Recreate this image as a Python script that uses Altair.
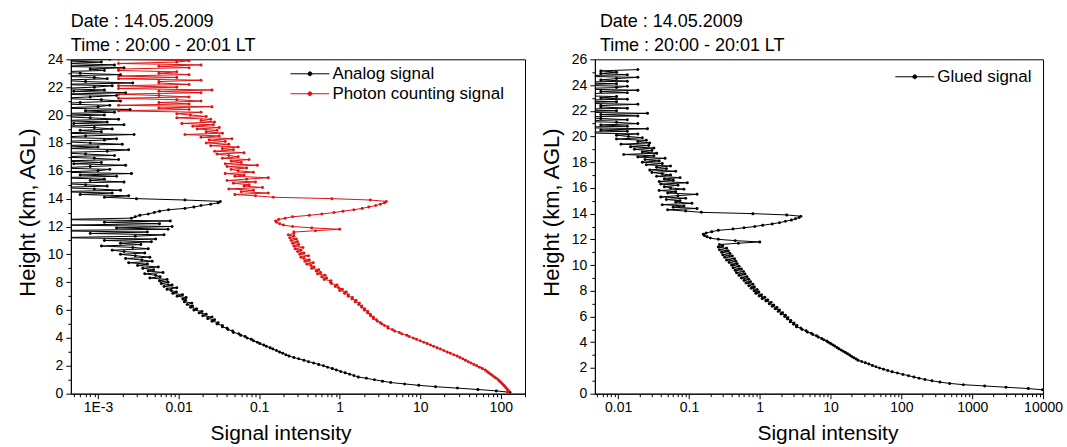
import altair as alt
import pandas as pd

# ---------------- data ----------------
HEIGHT_KM = [
    0.1, 0.2, 0.3, 0.4, 0.5, 0.6, 0.7, 0.8, 0.9, 1.0,
    1.1, 1.2, 1.3, 1.4, 1.5, 1.6, 1.7, 1.8, 1.9, 2.0,
    2.1, 2.2, 2.3, 2.4, 2.5, 2.6, 2.7, 2.8, 2.9, 3.0,
    3.1, 3.2, 3.3, 3.4, 3.5, 3.6, 3.7, 3.8, 3.9, 4.0,
    4.1, 4.2, 4.3, 4.4, 4.5, 4.6, 4.7, 4.8, 4.9, 5.0,
    5.1, 5.2, 5.3, 5.4, 5.5, 5.6, 5.7, 5.8, 5.9, 6.0,
    6.1, 6.2, 6.3, 6.4, 6.5, 6.6, 6.7, 6.8, 6.9, 7.0,
    7.1, 7.2, 7.3, 7.4, 7.5, 7.6, 7.7, 7.8, 7.9, 8.0,
    8.1, 8.2, 8.3, 8.4, 8.5, 8.6, 8.7, 8.8, 8.9, 9.0,
    9.1, 9.2, 9.3, 9.4, 9.5, 9.6, 9.7, 9.8, 9.9, 10.0,
    10.1, 10.2, 10.3, 10.4, 10.5, 10.6, 10.7, 10.8, 10.9, 11.0,
    11.1, 11.2, 11.3, 11.4, 11.5, 11.6, 11.7, 11.8, 11.9, 12.0,
    12.1, 12.2, 12.3, 12.4, 12.5, 12.6, 12.7, 12.8, 12.9, 13.0,
    13.1, 13.2, 13.3, 13.4, 13.5, 13.6, 13.7, 13.8, 13.9, 14.0,
    14.1, 14.2, 14.3, 14.4, 14.5, 14.6, 14.7, 14.8, 14.9, 15.0,
    15.1, 15.2, 15.3, 15.4, 15.5, 15.6, 15.7, 15.8, 15.9, 16.0,
    16.1, 16.2, 16.3, 16.4, 16.5, 16.6, 16.7, 16.8, 16.9, 17.0,
    17.1, 17.2, 17.3, 17.4, 17.5, 17.6, 17.7, 17.8, 17.9, 18.0,
    18.1, 18.2, 18.3, 18.4, 18.5, 18.6, 18.7, 18.8, 18.9, 19.0,
    19.1, 19.2, 19.3, 19.4, 19.5, 19.6, 19.7, 19.8, 19.9, 20.0,
    20.1, 20.2, 20.3, 20.4, 20.5, 20.6, 20.7, 20.8, 20.9, 21.0,
    21.1, 21.2, 21.3, 21.4, 21.5, 21.6, 21.7, 21.8, 21.9, 22.0,
    22.1, 22.2, 22.3, 22.4, 22.5, 22.6, 22.7, 22.8, 22.9, 23.0,
    23.1, 23.2, 23.3, 23.4, 23.5, 23.6, 23.7, 23.8, 23.9, 24.0,
    24.1, 24.2, 24.3, 24.4, 24.5, 24.6, 24.7, 24.8, 24.9, 25.0,
    25.1, 25.2,
]

# analog signal, 0.1 .. 24.0 km (values below the axis minimum are noise)
ANALOG = [
    130, 88, 52, 29, 15.5, 9.6, 6.4, 4.3, 3.4, 2.7,
    2.15, 1.7, 1.5, 1.33, 1.17, 1.03, 0.91, 0.81, 0.71, 0.63,
    0.55, 0.475, 0.41, 0.36, 0.31, 0.27, 0.235, 0.215, 0.196, 0.179,
    0.164, 0.148, 0.137, 0.123, 0.114, 0.102, 0.095, 0.085, 0.08, 0.071,
    0.067, 0.059, 0.056, 0.048, 0.047, 0.041, 0.04, 0.035, 0.035, 0.03,
    0.031, 0.026, 0.028, 0.023, 0.026, 0.02, 0.022, 0.018, 0.0195, 0.0155,
    0.0168, 0.0141, 0.0149, 0.0128, 0.0146, 0.0118, 0.0122, 0.0113, 0.0124, 0.0096,
    0.0112, 0.0085, 0.0094, 0.0081, 0.0072, 0.0095, 0.0066, 0.0083, 0.0061, 0.0074,
    0.0058, 0.0072, 0.0044, 0.0059, 0.0052, 0.0038, 0.0064, 0.0042, 0.0049, 0.0036,
    0.0056, 0.0031, 0.0041, 0.0024, 0.0047, 0.0035, 0.0022, 0.0044, 0.0029, 0.0019,
    0.0038, 0.0021, 0.0015, 0.0042, 0.0027, 0.0011, 0.0034, 0.0019, 0.0046, 0.0012,
    0.0052, 0.0003, 0.0029, 0.0066, 0.0008, 0.0041, 0.0002, 0.0074, 0.0017, 0.0083,
    0.0004, 0.0058, 0.0012, 0.0079, 0.0003, 0.0026, 0.0029, 0.0033, 0.0042, 0.005,
    0.0058, 0.0075, 0.012, 0.0155, 0.019, 0.025, 0.031, 0.033, 0.012, 0.003,
    0.0012, 0.0024, 0.0006, 0.0015, 0.0003, 0.0019, 0.0009, 0.0003, 0.0013, 0.0007,
    0.0003, 0.0021, 0.0008, 0.0012, 0.0003, 0.0017, 0.0006, 0.0026, 0.0003, 0.001,
    0.0014, 0.0003, 0.0008, 0.0022, 0.0005, 0.0011, 0.0003, 0.0018, 0.0009, 0.0003,
    0.0016, 0.0007, 0.0003, 0.0013, 0.0024, 0.0004, 0.001, 0.0003, 0.002, 0.0008,
    0.0003, 0.0012, 0.0017, 0.0003, 0.0007, 0.0028, 0.0003, 0.0011, 0.0006, 0.0015,
    0.0009, 0.0003, 0.0021, 0.0005, 0.0013, 0.0003, 0.0018, 0.0008, 0.0003, 0.0012,
    0.0003, 0.0016, 0.0007, 0.0025, 0.0003, 0.001, 0.0014, 0.0003, 0.0006, 0.0019,
    0.0011, 0.0003, 0.0008, 0.0017, 0.0003, 0.0022, 0.0005, 0.0012, 0.0003, 0.0009,
    0.0015, 0.0003, 0.0027, 0.0007, 0.0003, 0.0013, 0.0009, 0.0003, 0.0019, 0.0006,
    0.0003, 0.0012, 0.0008, 0.0021, 0.0003, 0.0016, 0.0004, 0.0011, 0.0003, 0.0014,
]

# photon counting signal, 0.1 .. 25.2 km
PHOTON = [
    122, 126, 121, 117, 113, 109, 105, 101, 97, 93,
    88, 83.5, 79, 75, 71, 67.5, 64, 59, 54.5, 50.3,
    46.4, 42.8, 39.5, 36.5, 33.7, 31.1, 28.7, 26.1, 23.7, 21.6,
    19.6, 17.8, 16.2, 14.7, 13.4, 12.2, 11.1, 10.0, 9.0, 8.2,
    7.3, 6.8, 5.9, 5.5, 4.8, 4.5, 4.0, 3.95, 3.6, 3.35,
    3.2, 2.95, 2.85, 2.62, 2.62, 2.42, 2.4, 2.22, 2.23, 2.02,
    2.05, 1.88, 1.88, 1.72, 1.76, 1.56, 1.6, 1.42, 1.44, 1.28,
    1.28, 1.15, 1.21, 1.0, 1.08, 0.97, 0.88, 0.93, 0.79, 0.77,
    0.78, 0.64, 0.69, 0.6, 0.66, 0.53, 0.58, 0.51, 0.55, 0.45,
    0.48, 0.44, 0.39, 0.47, 0.37, 0.42, 0.36, 0.33, 0.41, 0.32,
    0.36, 0.3, 0.33, 0.28, 0.35, 0.27, 0.31, 0.26, 0.3, 0.25,
    0.29, 0.24, 0.27, 0.23, 0.27, 0.27, 0.5, 1.0, 0.45, 0.26,
    0.2, 0.18, 0.165, 0.16, 0.175, 0.21, 0.26, 0.42, 0.6, 0.85,
    1.1, 1.5, 1.9, 2.3, 2.8, 3.2, 3.6, 3.8, 2.4, 0.8,
    0.15, 0.09, 0.05, 0.13, 0.06, 0.085, 0.042, 0.11, 0.065, 0.075,
    0.048, 0.09, 0.04, 0.07, 0.13, 0.05, 0.065, 0.038, 0.085, 0.055,
    0.045, 0.07, 0.04, 0.095, 0.038, 0.06, 0.045, 0.075, 0.035, 0.055,
    0.042, 0.03, 0.065, 0.028, 0.048, 0.035, 0.055, 0.025, 0.042, 0.022,
    0.038, 0.024, 0.046, 0.019, 0.032, 0.012, 0.035, 0.022, 0.03, 0.017,
    0.032, 0.015, 0.027, 0.011, 0.028, 0.019, 0.025, 0.0095, 0.022, 0.014,
    0.0095, 0.019, 0.0018, 0.0135, 0.0057, 0.026, 0.0018, 0.0135, 0.0057, 0.019,
    0.0095, 0.0018, 0.0135, 0.0057, 0.0018, 0.019, 0.0057, 0.026, 0.0018, 0.0095,
    0.0018, 0.0135, 0.0057, 0.0057, 0.019, 0.0018, 0.0095, 0.0018, 0.0135, 0.0057,
    0.0095, 0.0018, 0.0018, 0.0135, 0.0057, 0.019, 0.0018, 0.0095, 0.0135, 0.0018,
    0.0095, 0.0018, 0.0135, 0.0057, 0.0095, 0.019, 0.0018, 0.0135, 0.0057, 0.0095,
    0.0057, 0.019,
]

# glued signal below the glue height (0.1 .. 11.5 km); above it the glued
# profile is the photon counting profile
GLUED_LOW = [
    16000, 13000, 9800, 6200, 3000, 1500, 750, 480, 350, 270,
    215, 178, 150, 126, 105, 88, 74, 64, 56, 49,
    43.7, 39, 34.7, 30.9, 27.5, 24.5, 22.9, 21.3, 19.9, 18.6,
    17.3, 16.2, 15.1, 14.1, 13.1, 12.3, 11.4, 10.7, 10.0, 9.3,
    8.8, 8.0, 7.5, 6.7, 6.3, 5.6, 5.35, 4.7, 4.5, 3.95,
    3.8, 3.3, 3.35, 3.0, 3.05, 2.7, 2.75, 2.45, 2.5, 2.25,
    2.3, 2.0, 2.1, 1.82, 1.9, 1.65, 1.75, 1.5, 1.58, 1.36,
    1.45, 1.22, 1.3, 1.08, 1.18, 0.98, 1.06, 0.88, 0.97, 0.83,
    0.92, 0.76, 0.84, 0.7, 0.8, 0.64, 0.74, 0.6, 0.7, 0.55,
    0.66, 0.51, 0.62, 0.47, 0.59, 0.45, 0.55, 0.42, 0.51, 0.4,
    0.48, 0.37, 0.46, 0.34, 0.44, 0.32, 0.41, 0.3, 0.38, 0.29,
    0.36, 0.27, 0.34, 0.26, 0.3,
]
GLUED = GLUED_LOW + PHOTON[len(GLUED_LOW):]

SERIES_LEFT = ["Analog signal", "Photon counting signal"]
SERIES_RIGHT = ["Glued signal"]
TITLE_LINES = ["Date : 14.05.2009", "Time : 20:00 - 20:01 LT"]
X_DOMAIN_LEFT = [4.6e-4, 200]
X_DOMAIN_RIGHT = [0.0047, 10000]
Y_DOMAIN_LEFT = [0, 24]
Y_DOMAIN_RIGHT = [0, 26]

# ---------------- tables ----------------
df_left = pd.concat([
    pd.DataFrame({"h": HEIGHT_KM[:len(ANALOG)], "v": ANALOG, "series": SERIES_LEFT[0]}),
    pd.DataFrame({"h": HEIGHT_KM[:len(PHOTON)], "v": PHOTON, "series": SERIES_LEFT[1]}),
], ignore_index=True)
df_right = pd.DataFrame({"h": HEIGHT_KM[:len(GLUED)], "v": GLUED, "series": SERIES_RIGHT[0]})

RED = "#dc1414"
FONT = "Liberation Sans"


def log_ticks(lo, hi):
    out = []
    for e in range(-5, 6):
        for m in range(1, 10):
            v = float(f"{m}e{e}")
            if lo <= v <= hi:
                out.append(v)
    return out


IS_MAJOR = "abs(log(datum.value)/LN10 - round(log(datum.value)/LN10)) < 0.01"
PATH = "M-3,0H3M-0.3,0A0.3,0.3,0,1,1,0.3,0A0.3,0.3,0,1,1,-0.3,0Z"


def panel(df, series, colors, xdom, ydom, width, legend_x, legend_y, label_expr,
          title_dx, xtitle_x):
    xscale = alt.Scale(type="log", domain=xdom, nice=False)
    yscale = alt.Scale(domain=ydom, nice=False, zero=False)
    xaxis = alt.Axis(
        title="Signal intensity", values=log_ticks(*xdom), labelExpr=label_expr,
        tickSize={"condition": {"test": IS_MAJOR, "value": 5}, "value": 3},
        grid=False, labelFontSize=14, titleFontSize=21, labelPadding=2, titlePadding=5,
        labelOverlap=False, labelFlush=False, titleX=xtitle_x, titleY=29,
    )
    yaxis = alt.Axis(
        title="Height (km, AGL)", values=list(range(ydom[0], ydom[1] + 1)),
        labelExpr="datum.value % 2 == 0 ? datum.label : ''",
        tickSize={"condition": {"test": "datum.value % 2 == 0", "value": 5}, "value": 3},
        grid=False, labelFontSize=14, titleFontSize=22, labelPadding=3, titlePadding=7,
        titleX=-31, titleY=153,
    )
    legend = alt.Legend(
        title=None, orient="none", legendX=legend_x, legendY=legend_y,
        symbolType=PATH, symbolSize=169, symbolStrokeWidth=1,
        labelFontSize=17, labelOffset=14, rowPadding=2, padding=0, labelLimit=0,
    )
    base = alt.Chart(df)
    enc = dict(
        x=alt.X("v:Q", scale=xscale, axis=xaxis),
        y=alt.Y("h:Q", scale=yscale, axis=yaxis),
        order=alt.Order("h:Q"),
    )
    lines = base.mark_line(strokeWidth=1, clip=True).encode(
        color=alt.Color("series:N", scale=alt.Scale(domain=series, range=colors), legend=legend),
        detail="series:N",
        **enc,
    )
    points = base.mark_point(filled=True, size=9, opacity=1, clip=True).encode(
        fill=alt.Fill("series:N", scale=alt.Scale(domain=series, range=colors), legend=None),
        detail="series:N",
        **enc,
    )
    return alt.layer(lines, points).properties(
        width=width, height=335,
        title=alt.TitleParams(
            text=TITLE_LINES, anchor="start", frame="group", fontSize=18,
            fontWeight="normal", font=FONT, lineHeight=24, offset=-3, color="black",
            dx=title_dx,
        ),
    )


left = panel(
    df_left, SERIES_LEFT, ["black", RED], X_DOMAIN_LEFT, Y_DOMAIN_LEFT, 455,
    231, 6,
    IS_MAJOR + " ? (datum.value < 0.002 ? '1E-3' : format(datum.value, '')) : ''",
    0, 210,
)
right = panel(
    df_right, SERIES_RIGHT, ["black"], X_DOMAIN_RIGHT, Y_DOMAIN_RIGHT, 449,
    312, 9,
    IS_MAJOR + " ? format(datum.value, '') : ''",
    5, 233,
)

chart = alt.hconcat(left, right, spacing=14).resolve_scale(
    color="independent", fill="independent",
).resolve_legend(
    color="independent", fill="independent",
).properties(
    padding={"left": 16, "top": 12, "right": 4, "bottom": 4},
).configure(
    font=FONT,
).configure_view(
    stroke="black", strokeWidth=1,
).configure_axis(
    domainColor="black", tickColor="black", labelColor="black", titleColor="black",
    labelFont=FONT, titleFont=FONT, titleFontWeight="normal", domainWidth=1, tickWidth=1,
).configure_legend(
    labelFont=FONT, labelColor="black",
)

chart.save("out.html", embed_options={"renderer": "svg", "actions": False})
